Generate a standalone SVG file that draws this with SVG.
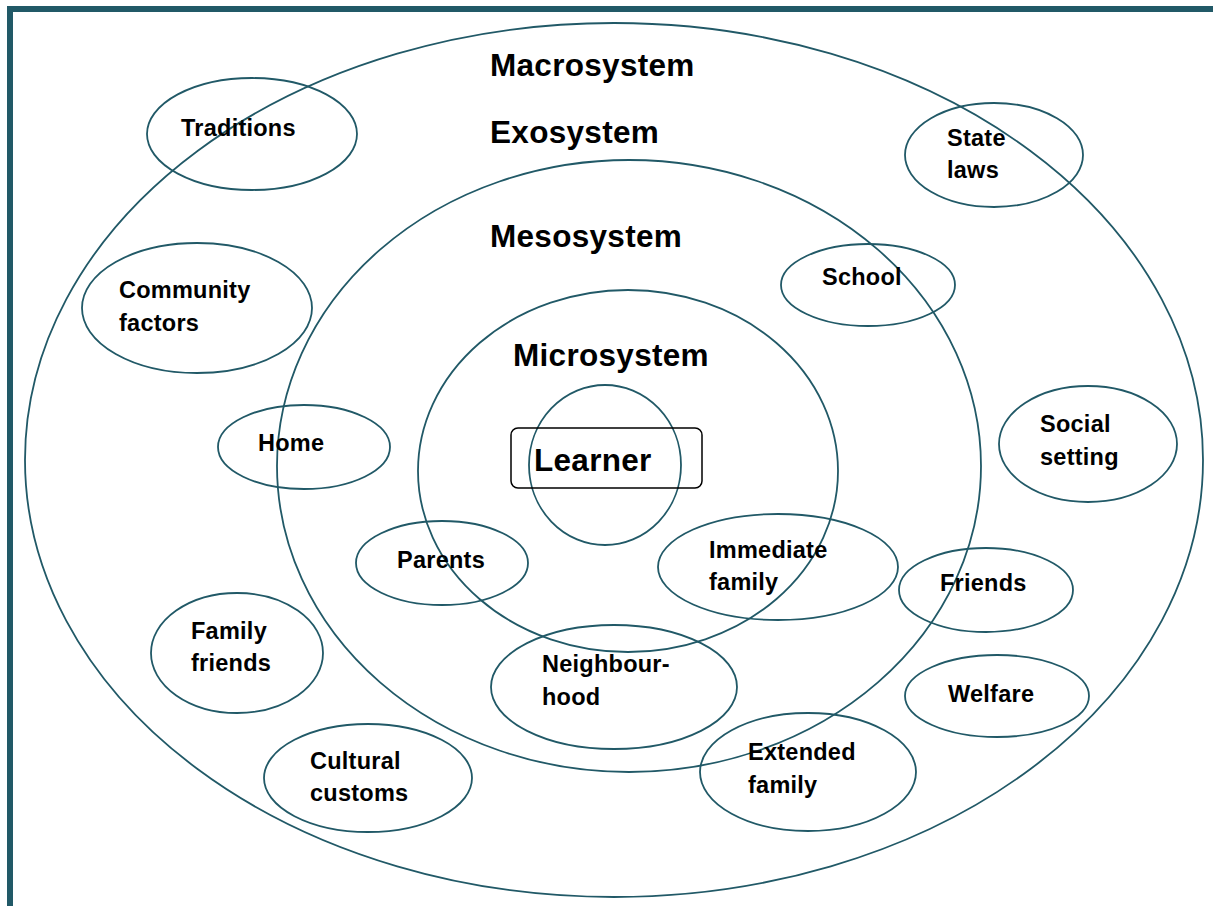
<svg xmlns="http://www.w3.org/2000/svg" width="1213" height="906" viewBox="0 0 1213 906">
<style>
.e{fill:none;stroke:#215967;stroke-width:1.8}
.t{font-family:"Liberation Sans",Arial,sans-serif;font-weight:bold;font-size:23.5px;letter-spacing:0.25px;fill:#000}
.h{font-family:"Liberation Sans",Arial,sans-serif;font-weight:bold;font-size:31.5px;letter-spacing:0.3px;fill:#000}
</style>
<rect width="1213" height="906" fill="#fff"/>
<g id="frame">
<rect x="7" y="6" width="1206" height="6" fill="#215967"/>
<rect x="7" y="6" width="6" height="900" fill="#215967"/>
</g>
<g id="systems">
<ellipse id="macrosystem" class="e" cx="614" cy="460" rx="589" ry="437"/>
<ellipse id="mesosystem" class="e" cx="629" cy="466" rx="352" ry="306"/>
<ellipse id="microsystem" class="e" cx="628" cy="471" rx="210" ry="181"/>
<text class="h" x="490" y="76">Macrosystem</text>
<text class="h" x="490" y="143">Exosystem</text>
<text class="h" x="490" y="247">Mesosystem</text>
<text class="h" x="513" y="366">Microsystem</text>
</g>
<g id="learner">
<ellipse class="e" cx="605" cy="465" rx="76" ry="80"/>
<rect x="511" y="428" width="191" height="60" rx="7" fill="none" stroke="#000" stroke-width="1.5"/>
<text class="h" x="534" y="471" style="font-size:31.5px">Learner</text>
</g>
<g id="traditions"><ellipse class="e" cx="252" cy="134" rx="105" ry="56"/><text class="t" x="181" y="136">Traditions</text></g>
<g id="state-laws"><ellipse class="e" cx="994" cy="155" rx="89" ry="52"/><text class="t" x="947" y="146">State</text><text class="t" x="947" y="178">laws</text></g>
<g id="community-factors"><ellipse class="e" cx="197" cy="308" rx="115" ry="65"/><text class="t" x="119" y="298">Community</text><text class="t" x="119" y="331">factors</text></g>
<g id="school"><ellipse class="e" cx="868" cy="285" rx="87" ry="41"/><text class="t" x="822" y="285">School</text></g>
<g id="social-setting"><ellipse class="e" cx="1088" cy="444" rx="89" ry="58"/><text class="t" x="1040" y="432">Social</text><text class="t" x="1040" y="465">setting</text></g>
<g id="home"><ellipse class="e" cx="304" cy="447" rx="86" ry="42"/><text class="t" x="258" y="451">Home</text></g>
<g id="parents"><ellipse class="e" cx="442" cy="563" rx="86" ry="42"/><text class="t" x="397" y="568">Parents</text></g>
<g id="immediate-family"><ellipse class="e" cx="778" cy="567" rx="120" ry="53"/><text class="t" x="709" y="558">Immediate</text><text class="t" x="709" y="590">family</text></g>
<g id="friends"><ellipse class="e" cx="986" cy="590" rx="87" ry="42"/><text class="t" x="940" y="591">Friends</text></g>
<g id="family-friends"><ellipse class="e" cx="237" cy="653" rx="86" ry="60"/><text class="t" x="191" y="639">Family</text><text class="t" x="191" y="671">friends</text></g>
<g id="neighbourhood"><ellipse class="e" cx="614" cy="687" rx="123" ry="62"/><text class="t" x="542" y="672">Neighbour-</text><text class="t" x="542" y="705">hood</text></g>
<g id="welfare"><ellipse class="e" cx="997" cy="696" rx="92" ry="41"/><text class="t" x="948" y="702">Welfare</text></g>
<g id="extended-family"><ellipse class="e" cx="808" cy="772" rx="108" ry="59"/><text class="t" x="748" y="760">Extended</text><text class="t" x="748" y="793">family</text></g>
<g id="cultural-customs"><ellipse class="e" cx="368" cy="778" rx="104" ry="54"/><text class="t" x="310" y="769">Cultural</text><text class="t" x="310" y="801">customs</text></g>
</svg>
